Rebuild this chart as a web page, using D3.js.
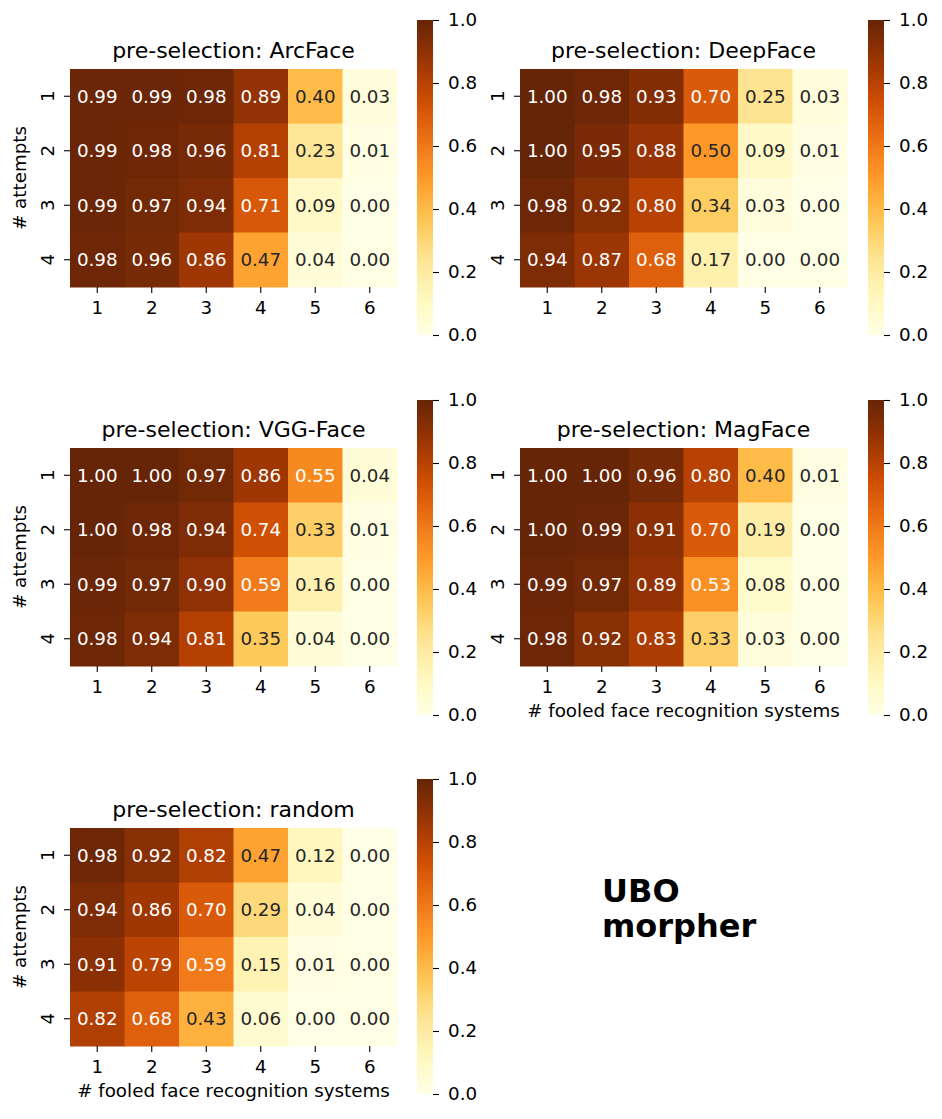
<!DOCTYPE html>
<html>
<head>
<meta charset="utf-8">
<script src="https://cdn.jsdelivr.net/npm/d3@7"></script>
<style>
  body { margin: 0; background: #fff; }
  svg text { font-family: "DejaVu Sans", sans-serif; }
</style>
</head>
<body>
<svg id="svg1" width="942" height="1119"></svg>
<script>
// five heatmaps of fooling rate, seaborn style

var xCats = [1, 2, 3, 4, 5, 6];     // # fooled face recognition systems
var yCats = [1, 2, 3, 4];           // # attempts
var cbTicks = [0, 0.2, 0.4, 0.6, 0.8, 1.0];

var arcface = [
  [0.99, 0.99, 0.98, 0.89, 0.40, 0.03],
  [0.99, 0.98, 0.96, 0.81, 0.23, 0.01],
  [0.99, 0.97, 0.94, 0.71, 0.09, 0.00],
  [0.98, 0.96, 0.86, 0.47, 0.04, 0.00]
];
var deepface = [
  [1.00, 0.98, 0.93, 0.70, 0.25, 0.03],
  [1.00, 0.95, 0.88, 0.50, 0.09, 0.01],
  [0.98, 0.92, 0.80, 0.34, 0.03, 0.00],
  [0.94, 0.87, 0.68, 0.17, 0.00, 0.00]
];
var vggface = [
  [1.00, 1.00, 0.97, 0.86, 0.55, 0.04],
  [1.00, 0.98, 0.94, 0.74, 0.33, 0.01],
  [0.99, 0.97, 0.90, 0.59, 0.16, 0.00],
  [0.98, 0.94, 0.81, 0.35, 0.04, 0.00]
];
var magface = [
  [1.00, 1.00, 0.96, 0.80, 0.40, 0.01],
  [1.00, 0.99, 0.91, 0.70, 0.19, 0.00],
  [0.99, 0.97, 0.89, 0.53, 0.08, 0.00],
  [0.98, 0.92, 0.83, 0.33, 0.03, 0.00]
];
var random = [
  [0.98, 0.92, 0.82, 0.47, 0.12, 0.00],
  [0.94, 0.86, 0.70, 0.29, 0.04, 0.00],
  [0.91, 0.79, 0.59, 0.15, 0.01, 0.00],
  [0.82, 0.68, 0.43, 0.06, 0.00, 0.00]
];

var titles = ["ArcFace", "DeepFace", "VGG-Face", "MagFace", "random"];
var tables = [arcface, deepface, vggface, magface, random];

// matplotlib YlOrBr = linear through the 9 colorbrewer colours
var ylorbr = ["#ffffe5", "#fff7bc", "#fee391", "#fec44f", "#fe9929",
              "#ec7014", "#cc4c02", "#993404", "#662506"];
var color = d3.scaleLinear()
    .domain(d3.range(9).map(function (i) { return i / 8; }))
    .range(ylorbr)
    .interpolate(d3.interpolateRgb);

function luminance(c) {
  var rgb = d3.rgb(c);
  var v = [rgb.r, rgb.g, rgb.b].map(function (u) {
    u = u / 255;
    return u <= 0.03928 ? u / 12.92 : Math.pow((u + 0.055) / 1.055, 2.4);
  });
  return 0.2126 * v[0] + 0.7152 * v[1] + 0.0722 * v[2];
}

var svg = d3.select("#svg1");

// gradient for colour bars
var grad = svg.append("defs").append("linearGradient")
    .attr("id", "cbgrad")
    .attr("x1", 0).attr("y1", 1).attr("x2", 0).attr("y2", 0);
d3.range(0, 1.0001, 0.05).forEach(function (t) {
  grad.append("stop").attr("offset", t).attr("stop-color", color(t));
});

// panel positions: heatmap left/top, colorbar left/top/bottom
var panels = [
  { hx: 70,  hy: 69,  cx: 417, cy: 20,  cb: 335,  ylab: true,  xlab: false },
  { hx: 520, hy: 69,  cx: 868, cy: 20,  cb: 335,  ylab: false, xlab: false },
  { hx: 70,  hy: 448, cx: 417, cy: 400, cb: 715,  ylab: true,  xlab: false },
  { hx: 520, hy: 448, cx: 868, cy: 400, cb: 715,  ylab: false, xlab: true },
  { hx: 70,  hy: 828, cx: 417, cy: 779, cb: 1094, ylab: true,  xlab: true }
];

var W = 327, H = 218, fs = 18.3;

function drawHeatmap(p, name, data) {
  var g = svg.append("g").attr("transform", "translate(" + p.hx + "," + p.hy + ")");

  var x = d3.scaleBand().domain(xCats).range([0, W]);
  var y = d3.scaleBand().domain(yCats).range([0, H]);

  var cells = [];
  data.forEach(function (row, i) {
    row.forEach(function (v, j) {
      cells.push({ r: yCats[i], c: xCats[j], v: v });
    });
  });

  g.selectAll("rect.cell").data(cells).enter().append("rect")
    .attr("class", "cell")
    .attr("x", function (d) { return x(d.c); })
    .attr("y", function (d) { return y(d.r); })
    .attr("width", x.bandwidth() + 0.5)
    .attr("height", y.bandwidth() + 0.5)
    .attr("fill", function (d) { return color(d.v); });

  g.selectAll("text.val").data(cells).enter().append("text")
    .attr("class", "val")
    .attr("x", function (d) { return x(d.c) + x.bandwidth() / 2; })
    .attr("y", function (d) { return y(d.r) + y.bandwidth() / 2; })
    .attr("dy", "0.36em")
    .attr("text-anchor", "middle")
    .attr("font-size", fs)
    .attr("fill", function (d) { return luminance(color(d.v)) > 0.408 ? "#262626" : "#ffffff"; })
    .text(function (d) { return d.v.toFixed(2); });

  // x axis
  var xa = g.append("g").attr("transform", "translate(0," + H + ")")
    .call(d3.axisBottom(x).tickSize(6));
  xa.select(".domain").remove();
  xa.selectAll("line").attr("stroke", "#000").attr("stroke-width", 1.1);
  xa.selectAll("text").attr("font-size", fs).attr("fill", "#000")
    .attr("font-family", "DejaVu Sans").attr("y", 27).attr("dy", 0);

  // y axis, labels turned upright
  var ya = g.append("g").call(d3.axisLeft(y).tickSize(6));
  ya.select(".domain").remove();
  ya.selectAll("line").attr("stroke", "#000").attr("stroke-width", 1.1);
  ya.selectAll("text").attr("font-size", fs).attr("fill", "#000")
    .attr("font-family", "DejaVu Sans")
    .attr("transform", "rotate(-90)")
    .attr("x", 0).attr("y", -16).attr("dy", 0)
    .attr("text-anchor", "middle");

  g.append("text")
    .attr("x", W / 2).attr("y", -11)
    .attr("text-anchor", "middle")
    .attr("font-size", 22)
    .attr("fill", "#000")
    .text("pre-selection: " + name);

  if (p.ylab) {
    g.append("text")
      .attr("transform", "translate(-44," + H / 2 + ") rotate(-90)")
      .attr("text-anchor", "middle")
      .attr("font-size", fs)
      .attr("fill", "#000")
      .text("# attempts");
  }
  if (p.xlab) {
    g.append("text")
      .attr("x", W / 2).attr("y", H + 51)
      .attr("text-anchor", "middle")
      .attr("font-size", fs)
      .attr("fill", "#000")
      .text("# fooled face recognition systems");
  }

  // colour bar
  var cs = d3.scaleLinear().domain([0, 1]).range([p.cb, p.cy]);
  svg.append("rect")
    .attr("x", p.cx).attr("y", p.cy)
    .attr("width", 16).attr("height", p.cb - p.cy)
    .attr("fill", "url(#cbgrad)");
  var ca = svg.append("g").attr("transform", "translate(" + (p.cx + 16) + ",0)")
    .call(d3.axisRight(cs).tickValues(cbTicks).tickSize(6).tickPadding(9).tickFormat(d3.format(".1f")));
  ca.select(".domain").remove();
  ca.selectAll("line").attr("stroke", "#000").attr("stroke-width", 1.1);
  ca.selectAll("text").attr("font-size", fs).attr("fill", "#000")
    .attr("font-family", "DejaVu Sans");
}

panels.forEach(function (p, i) {
  drawHeatmap(p, titles[i], tables[i]);
});

// side note
var note = svg.append("text")
  .attr("x", 602)
  .attr("font-size", 32)
  .attr("font-weight", "bold")
  .attr("fill", "#000");
note.append("tspan").attr("x", 602).attr("y", 902).text("UBO");
note.append("tspan").attr("x", 602).attr("y", 937).text("morpher");
</script>
</body>
</html>
